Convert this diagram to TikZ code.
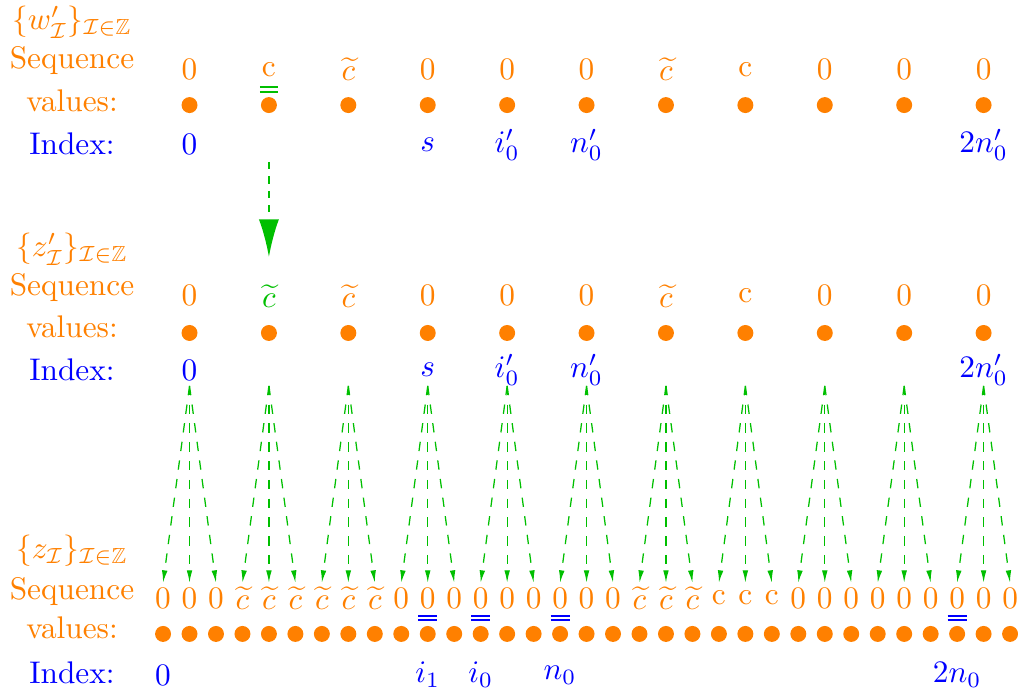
\documentclass[tikz,border=0pt]{standalone}
\usepackage{amsmath}
\usepackage{amssymb}
\usepackage{tikz}
\usetikzlibrary{arrows.meta,positioning}
\definecolor{arrowgreen}{rgb}{0,0.75,0}
\definecolor{seqorange}{rgb}{1,0.5,0}

\tikzset{
  dot/.style={circle,fill=seqorange,inner sep=0pt,minimum size=5.1pt},
  val/.style={text=seqorange,inner sep=0pt},
  idx/.style={text=blue,inner sep=0pt},
  lbl/.style={inner sep=0pt},
  fan/.style={arrowgreen,dashed,line width=0.4pt,-{Latex[length=4pt,width=1.8pt]}},
  bigarrow/.style={arrowgreen,line width=0.6pt,dash pattern=on 2.3pt off 2.3pt,-{Latex[length=12pt,width=6.4pt]}},
  eqbar/.style={line width=0.45pt}
}

\begin{document}
\begin{tikzpicture}[x=8.457pt,y=-8.457pt]
\useasboundingbox (-6.16,0) rectangle (32.3,26.03);

% row labels
\node[lbl,text=seqorange] (wname) at (-3.44,0.83) {$\{w'_{\mathcal{I}}\}_{\mathcal{I}\in\mathbb{Z}}$};
\node[lbl,text=seqorange] (wseq) at (-3.44,2.27) {Sequence};
\node[lbl,text=seqorange] (wvals) at (-3.44,3.82) {values:};
\node[lbl,text=blue] (windex) at (-3.44,5.44) {Index:};

\node[lbl,text=seqorange] (zpname) at (-3.44,9.41) {$\{z'_{\mathcal{I}}\}_{\mathcal{I}\in\mathbb{Z}}$};
\node[lbl,text=seqorange] (zpseq) at (-3.44,10.88) {Sequence};
\node[lbl,text=seqorange] (zpvals) at (-3.44,12.35) {values:};
\node[lbl,text=blue] (zpindex) at (-3.44,13.98) {Index:};

\node[lbl,text=seqorange] (zname) at (-3.44,20.82) {$\{z_{\mathcal{I}}\}_{\mathcal{I}\in\mathbb{Z}}$};
\node[lbl,text=seqorange] (zseq) at (-3.44,22.33) {Sequence};
\node[lbl,text=seqorange] (zvals) at (-3.44,23.72) {values:};
\node[lbl,text=blue] (zindex) at (-3.44,25.42) {Index:};

% top sequence w'
\foreach \v [count=\j from 0] in {0,c,$\widetilde{c}$,0,0,0,$\widetilde{c}$,c,0,0,0}
	\node[val] (wv\j) at (3*\j+1,2.62) {\v};
\foreach \j in {0,...,10}
	\node[dot] (wd\j) at (3*\j+1,3.97) {};
\foreach \j/\t in {0/0,3/s,4/i'_0,5/n'_0,10/2n'_0}
	\node[idx] (wi\j) at (3*\j+1,5.46) {$\t$};
\draw[eqbar,arrowgreen] (3.66,3.29) -- (4.34,3.29);
\draw[eqbar,arrowgreen] (3.66,3.48) -- (4.34,3.48);

% arrow between the two upper rows
\coordinate (wa) at (4,6.12);
\coordinate (za) at (4,9.71);
\draw[bigarrow] (wa) -- (za);

% middle sequence z'
\foreach \v [count=\j from 0] in {0,\textcolor{arrowgreen}{$\widetilde{c}$},$\widetilde{c}$,0,0,0,$\widetilde{c}$,c,0,0,0}
	\node[val] (zv\j) at (3*\j+1,11.18) {\v};
\foreach \j in {0,...,10}
	\node[dot] (zd\j) at (3*\j+1,12.58) {};
\foreach \j/\t in {0/0,3/s,4/i'_0,5/n'_0,10/2n'_0}
	\node[idx] (zi\j) at (3*\j+1,13.98) {$\t$};

% bottom sequence z
\foreach \v [count=\k from 0] in {0,0,0,$\widetilde{c}$,$\widetilde{c}$,$\widetilde{c}$,$\widetilde{c}$,$\widetilde{c}$,$\widetilde{c}$,0,0,0,0,0,0,0,0,0,$\widetilde{c}$,$\widetilde{c}$,$\widetilde{c}$,c,c,c,0,0,0,0,0,0,0,0,0}
	\node[val] (bv\k) at (\k,22.59) {\v};
\foreach \k in {0,...,32}
	\node[dot] (bd\k) at (\k,23.95) {};
\foreach \k/\t in {0/0,10/i_1,12/i_0,15/n_0,30/2n_0}
	\node[idx] (bi\k) at (\k,25.5) {$\t$};
\foreach \k in {10,12,15,30} {
	\draw[eqbar,blue] (\k-0.36,23.27) -- (\k+0.36,23.27);
	\draw[eqbar,blue] (\k-0.36,23.42) -- (\k+0.36,23.42);
}

% fans from z' to z
\foreach \j in {0,...,10}
	\coordinate (zs\j) at (3*\j+1,14.58);
\foreach \k in {0,...,32}
	\coordinate (bt\k) at (\k,22.02);
\foreach \j in {0,...,10}
	\foreach \d in {0,1,2} {
		\pgfmathtruncatemacro\t{3*\j+\d}
		\draw[fan] (zs\j) -- (bt\t);
	}
\end{tikzpicture}
\end{document}
